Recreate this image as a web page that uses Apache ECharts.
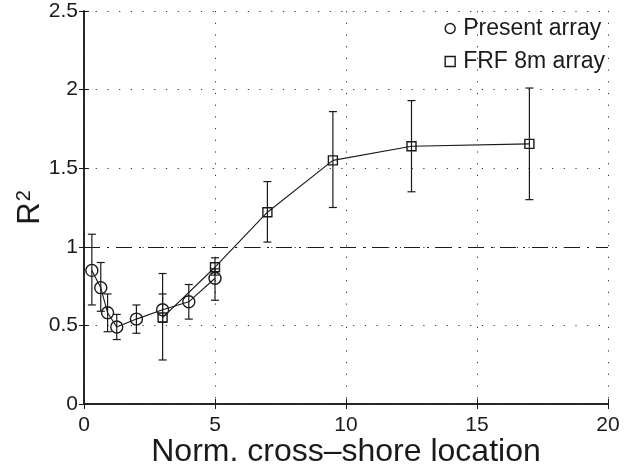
<!DOCTYPE html>
<html>
<head>
<meta charset="utf-8">
<script src="https://cdn.jsdelivr.net/npm/echarts@6/dist/echarts.min.js"></script>
<style>
  html, body { margin: 0; padding: 0; background: #fff; }
  #chart { width: 624px; height: 468px; }
</style>
</head>
<body>
<div id="chart"></div>
<script>
// present array (circles)
var presentX = [0.3, 0.64, 0.9, 1.25, 2, 3, 4, 5]
var presentY = [0.85, 0.74, 0.58, 0.49, 0.54, 0.60, 0.65, 0.80]
var presentLo = [0.63, 0.59, 0.46, 0.41, 0.45, 0.52, 0.54, 0.66]
var presentHi = [1.08, 0.90, 0.70, 0.57, 0.63, 0.70, 0.76, 0.86]

// FRF 8m array (squares)
var frfX = [3, 5, 7, 9.5, 12.5, 17]
var frfY = [0.55, 0.87, 1.22, 1.55, 1.64, 1.655]
var frfLo = [0.28, 0.82, 1.03, 1.25, 1.35, 1.30]
var frfHi = [0.83, 0.93, 1.415, 1.86, 1.93, 2.01]

var xTicks = [0, 5, 10, 15, 20]
var yTicks = [0, 0.5, 1, 1.5, 2, 2.5]
var refLine = 1

var font = 'Liberation Sans, Arial, Helvetica, sans-serif'
var ink = '#1a1a1a'

function zip(xs, ys) {
    return xs.map(function (x, i) { return [x, ys[i]] })
}

function bars(xs, lo, hi) {
    return xs.map(function (x, i) { return [x, lo[i], hi[i]] })
}

function renderErr(params, api) {
    var top = api.coord([api.value(0), api.value(2)])
    var bot = api.coord([api.value(0), api.value(1)])
    var w = 4
    var st = { stroke: ink, lineWidth: 1.2 }
    return {
        type: 'group',
        children: [
            { type: 'line', shape: { x1: top[0], y1: top[1], x2: bot[0], y2: bot[1] }, style: st },
            { type: 'line', shape: { x1: top[0] - w, y1: top[1], x2: top[0] + w, y2: top[1] }, style: st },
            { type: 'line', shape: { x1: bot[0] - w, y1: bot[1], x2: bot[0] + w, y2: bot[1] }, style: st }
        ]
    }
}

var markerStyle = { color: 'rgba(0,0,0,0)', borderColor: ink, borderWidth: 1.4 }
var dotted = { color: '#333', width: 1, type: [1.2, 10.5] }

var chart = echarts.init(document.getElementById('chart'), null, { renderer: 'canvas' })

chart.setOption({
    animation: false,
    backgroundColor: '#fff',
    textStyle: { fontFamily: font },
    grid: { left: 84, right: 16, top: 11, bottom: 64, containLabel: false, outerBoundsMode: 'none' },
    legend: {
        orient: 'vertical',
        right: 14,
        top: 12,
        itemWidth: 10,
        itemHeight: 10,
        itemGap: 10,
        textStyle: { fontFamily: font, fontSize: 23, color: ink, padding: [0, 0, 0, 3] },
        data: [
            { name: 'Present array', icon: 'circle', itemStyle: markerStyle },
            { name: 'FRF 8m array', icon: 'rect', itemStyle: markerStyle }
        ]
    },
    xAxis: [{
        type: 'value',
        min: xTicks[0],
        max: xTicks[xTicks.length - 1],
        interval: 5,
        name: 'Norm. cross\u2013shore location',
        nameLocation: 'middle',
        nameMoveOverlap: false,
        nameGap: 32,
        nameTextStyle: { fontFamily: font, fontSize: 32, color: ink },
        axisLine: { lineStyle: { color: ink, width: 1.5 } },
        axisTick: { inside: true, length: 5, lineStyle: { color: ink } },
        axisLabel: { margin: 11, fontSize: 21, color: ink, fontFamily: font },
        splitLine: { show: true, lineStyle: dotted }
    }, {
        type: 'value',
        position: 'top',
        min: xTicks[0],
        max: xTicks[xTicks.length - 1],
        interval: 5,
        axisLine: { show: true, lineStyle: { color: ink, width: 1.5 } },
        axisTick: { inside: true, length: 5, lineStyle: { color: ink } },
        axisLabel: { show: false },
        splitLine: { show: false }
    }],
    yAxis: [{
        type: 'value',
        min: yTicks[0],
        max: yTicks[yTicks.length - 1],
        interval: 0.5,
        name: 'R{sup|2}',
        nameLocation: 'middle',
        nameMoveOverlap: false,
        nameRotate: 90,
        nameGap: 38,
        nameTextStyle: {
            fontFamily: font, fontSize: 31, color: ink,
            rich: { sup: { fontFamily: font, fontSize: 20, color: ink, verticalAlign: 'top', padding: [0, 0, 12, 1] } }
        },
        axisLine: { show: true, lineStyle: { color: ink, width: 1.5 } },
        axisTick: { show: true, inside: true, length: 5, lineStyle: { color: ink } },
        axisLabel: {
            margin: 6, fontSize: 21, color: ink, fontFamily: font,
            formatter: function (v) { return String(v) }
        },
        splitLine: { show: true, lineStyle: dotted }
    }, {
        type: 'value',
        position: 'right',
        min: yTicks[0],
        max: yTicks[yTicks.length - 1],
        interval: 0.5,
        axisLine: { show: true, lineStyle: { color: ink, width: 1.5 } },
        axisTick: { show: true, inside: true, length: 5, lineStyle: { color: ink } },
        axisLabel: { show: false },
        splitLine: { show: false }
    }],
    series: [{
        type: 'custom',
        name: 'presentErr',
        renderItem: renderErr,
        data: bars(presentX, presentLo, presentHi),
        z: 2
    }, {
        type: 'custom',
        name: 'frfErr',
        renderItem: renderErr,
        data: bars(frfX, frfLo, frfHi),
        z: 2
    }, {
        type: 'line',
        name: 'Present array',
        data: zip(presentX, presentY),
        symbol: 'circle',
        symbolSize: 12,
        showAllSymbol: true,
        itemStyle: markerStyle,
        lineStyle: { color: ink, width: 1.1 },
        markLine: {
            silent: true,
            symbol: 'none',
            label: { show: false },
            lineStyle: { color: ink, width: 1.1, type: [16, 7, 2, 7] },
            data: [{ yAxis: refLine }]
        },
        z: 3
    }, {
        type: 'line',
        name: 'FRF 8m array',
        data: zip(frfX, frfY),
        symbol: 'rect',
        symbolSize: 9,
        showAllSymbol: true,
        itemStyle: markerStyle,
        lineStyle: { color: ink, width: 1.1 },
        z: 3
    }]
})
</script>
</body>
</html>
